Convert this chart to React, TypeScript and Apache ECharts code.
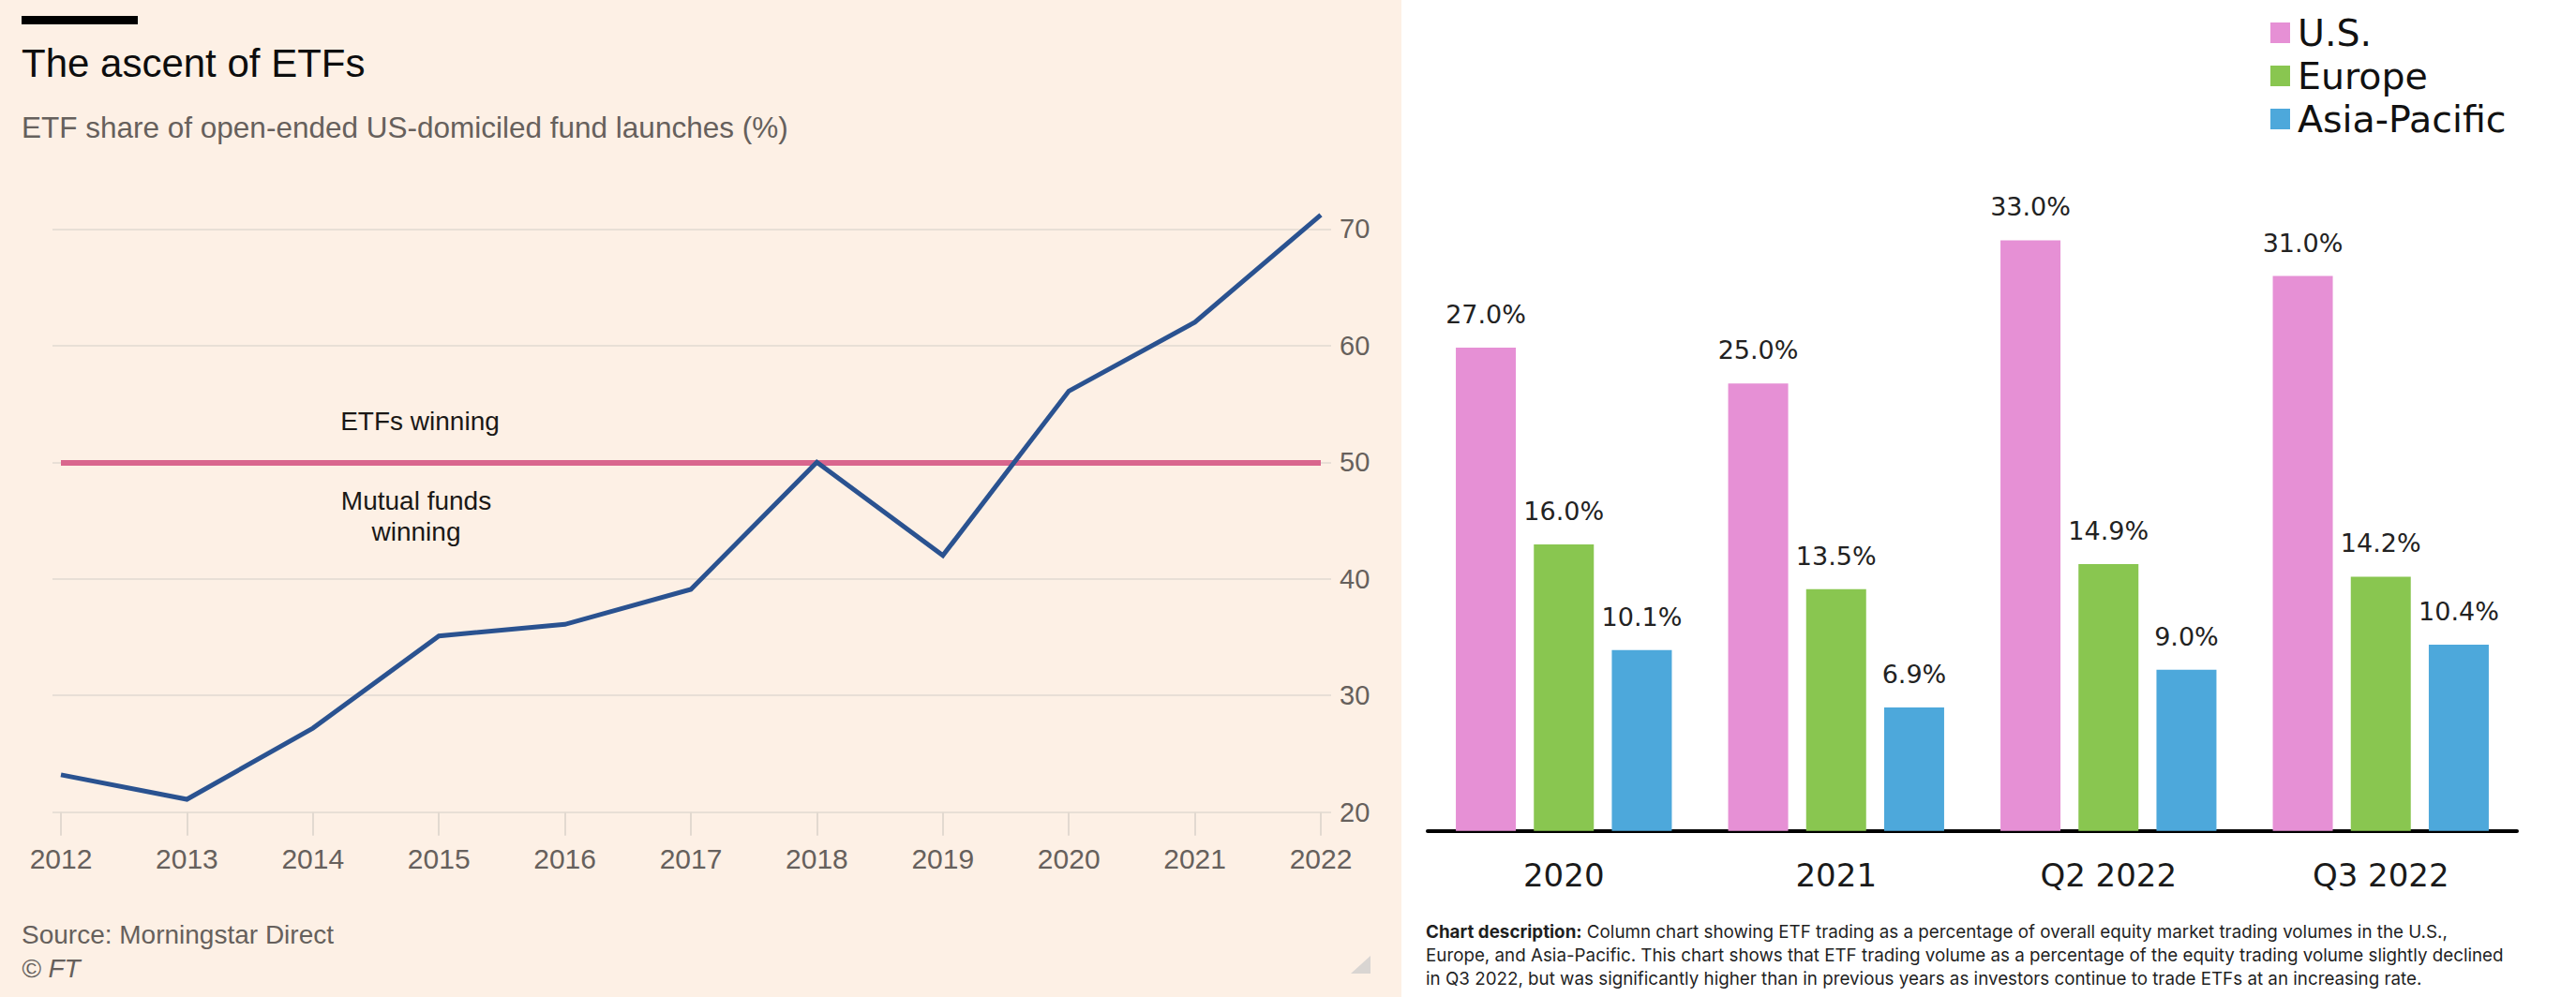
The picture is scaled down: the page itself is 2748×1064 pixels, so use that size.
import React, { useEffect, useRef } from "react";
import * as echarts from "echarts";

// Left chart: ETF share of open-ended US-domiciled fund launches (%)
const years = ["2012", "2013", "2014", "2015", "2016", "2017", "2018", "2019", "2020", "2021", "2022"];
const etfShare = [23.2, 21.1, 27.2, 35.1, 36.1, 39.1, 50.0, 42.0, 56.1, 62.0, 71.2];
const leftAxisMin = 20;
const leftAxisMax = 70;
const leftAxisInterval = 10;
const thresholdValue = 50;

// Right chart: ETF trading as % of equity market trading volumes
const periods = ["2020", "2021", "Q2 2022", "Q3 2022"];
const regionNames = ["U.S.", "Europe", "Asia-Pacific"];
const usShare = [27.0, 25.0, 33.0, 31.0];
const europeShare = [16.0, 13.5, 14.9, 14.2];
const asiaShare = [10.1, 6.9, 9.0, 10.4];
const rightAxisMax = 40;

const FT = "'Liberation Sans', Arial, sans-serif";
const DJ = "'DejaVu Sans', sans-serif";
const DESC = "Inter, 'Liberation Sans', sans-serif";

const regionColors = ["#e690d5", "#89c650", "#4da8db"];

export default function App() {
  const ref = useRef<HTMLDivElement>(null);

  useEffect(() => {
    document.body.style.margin = "0";
    if (!ref.current) return;
    const chart = echarts.init(ref.current, null, { renderer: "svg" });

    const barLabel = {
      show: true,
      position: "top",
      distance: 22,
      formatter: (p: any) => Number(p.value).toFixed(1) + "%",
      fontSize: 27,
      fontFamily: DJ,
      color: "#222222",
    };

    const regionSeries = [usShare, europeShare, asiaShare].map((d, i) => ({
      type: "bar",
      name: regionNames[i],
      xAxisIndex: 2,
      yAxisIndex: 2,
      data: d,
      barWidth: 64,
      barGap: "30%",
      itemStyle: { color: regionColors[i] },
      label: barLabel,
    }));

    const option: any = {
      animation: false,
      grid: [
        { left: 65, top: 244.3, width: 1344, height: 622.4 },
        { left: 56, top: 244.3, width: 1364, height: 622.4 },
        { left: 1523, top: 122.7, width: 1162, height: 764 },
      ],
      xAxis: [
        {
          gridIndex: 0,
          type: "category",
          data: years,
          boundaryGap: false,
          axisLine: { show: false },
          axisTick: { show: true, interval: 0, length: 25, lineStyle: { color: "#e2d9d0", width: 2 } },
          axisLabel: { interval: 0, margin: 35, fontSize: 30, color: "#66605c", fontFamily: FT },
          splitLine: { show: false },
        },
        { gridIndex: 1, type: "value", show: false, min: 0, max: 1 },
        {
          gridIndex: 2,
          type: "category",
          data: periods,
          axisLine: { show: true, lineStyle: { color: "#000000", width: 4 } },
          axisTick: { show: false },
          axisLabel: { margin: 30, fontSize: 34, color: "#1a1a1a", fontFamily: DJ },
        },
      ],
      yAxis: [
        { gridIndex: 0, type: "value", min: leftAxisMin, max: leftAxisMax, interval: leftAxisInterval, show: false },
        {
          gridIndex: 1,
          type: "value",
          position: "right",
          min: leftAxisMin,
          max: leftAxisMax,
          interval: leftAxisInterval,
          axisLine: { show: false },
          axisTick: { show: false },
          axisLabel: { margin: 9, fontSize: 29, color: "#66605c", fontFamily: FT },
          splitLine: { show: true, lineStyle: { color: "#e8dfd6", width: 2 } },
        },
        { gridIndex: 2, type: "value", min: 0, max: rightAxisMax, show: false },
      ],
      legend: {
        data: regionNames,
        orient: "vertical",
        left: 2417,
        top: 10,
        itemWidth: 21,
        itemHeight: 22,
        itemGap: 6,
        icon: "rect",
        selectedMode: false,
        textStyle: { fontSize: 39.5, lineHeight: 39, fontFamily: DJ, color: "#111111", padding: [0, 0, 0, 3] },
      },
      series: [
        {
          type: "line",
          name: "ETF share",
          xAxisIndex: 0,
          yAxisIndex: 0,
          data: etfShare,
          symbol: "none",
          clip: false,
          z: 10,
          lineStyle: { color: "#2a5290", width: 5, join: "miter" },
          markLine: {
            silent: true,
            symbol: ["none", "none"],
            label: { show: false },
            lineStyle: { color: "#d9668d", width: 6, type: "solid" },
            data: [{ yAxis: thresholdValue }],
          },
        },
        ...regionSeries,
      ],
      graphic: [
        { type: "rect", shape: { x: 23, y: 17, width: 124, height: 9 }, style: { fill: "#000000" } },
        {
          type: "text",
          x: 23,
          y: 67.3,
          style: { text: "The ascent of ETFs", fontSize: 42, fontFamily: FT, fill: "#0d0d0d", textVerticalAlign: "middle", verticalAlign: "middle" },
        },
        {
          type: "text",
          x: 23,
          y: 136.3,
          style: {
            text: "ETF share of open-ended US-domiciled fund launches (%)",
            fontSize: 31.5,
            fontFamily: FT,
            fill: "#66605c",
            textVerticalAlign: "middle",
            verticalAlign: "middle",
          },
        },
        {
          type: "text",
          x: 448,
          y: 449.7,
          style: { text: "ETFs winning", fontSize: 28, fontFamily: FT, fill: "#1a1816", textAlign: "center", align: "center", textVerticalAlign: "middle", verticalAlign: "middle" },
        },
        {
          type: "text",
          x: 444,
          y: 534.5,
          style: { text: "Mutual funds", fontSize: 28, fontFamily: FT, fill: "#1a1816", textAlign: "center", align: "center", textVerticalAlign: "middle", verticalAlign: "middle" },
        },
        {
          type: "text",
          x: 444,
          y: 567,
          style: { text: "winning", fontSize: 28, fontFamily: FT, fill: "#1a1816", textAlign: "center", align: "center", textVerticalAlign: "middle", verticalAlign: "middle" },
        },
        {
          type: "text",
          x: 23,
          y: 997,
          style: { text: "Source: Morningstar Direct", fontSize: 28, fontFamily: FT, fill: "#66605c", textVerticalAlign: "middle", verticalAlign: "middle" },
        },
        {
          type: "text",
          x: 23,
          y: 1033,
          style: { text: "© FT", fontSize: 28, fontStyle: "italic", fontFamily: FT, fill: "#66605c", textVerticalAlign: "middle", verticalAlign: "middle" },
        },
        {
          type: "polygon",
          shape: { points: [[1462, 1020], [1462, 1039], [1441, 1039]] },
          style: { fill: "#d9d5d2" },
        },
        {
          type: "text",
          x: 1521,
          y: 982,
          style: {
            text:
              "{b|Chart description:} Column chart showing ETF trading as a percentage of overall equity market trading volumes in the U.S.,\n" +
              "Europe, and Asia-Pacific. This chart shows that ETF trading volume as a percentage of the equity trading volume slightly declined\n" +
              "in Q3 2022, but was significantly higher than in previous years as investors continue to trade ETFs at an increasing rate.",
            fontSize: 18.8,
            fontFamily: DESC,
            lineHeight: 25,
            fill: "#1f1f1f",
            textVerticalAlign: "top",
            verticalAlign: "top",
            rich: {
              b: { fontSize: 18.8, fontFamily: DESC, fontWeight: "bold", fill: "#1f1f1f", lineHeight: 25 },
            },
          },
        },
      ],
    };

    chart.setOption(option);
    return () => chart.dispose();
  }, []);

  return (
    <div
      style={{
        width: 2748,
        height: 1064,
        background: "linear-gradient(to right, #fdf0e5 0px, #fdf0e5 1495px, #ffffff 1495px, #ffffff 100%)",
      }}
    >
      <div ref={ref} style={{ width: 2748, height: 1064 }} />
    </div>
  );
}
